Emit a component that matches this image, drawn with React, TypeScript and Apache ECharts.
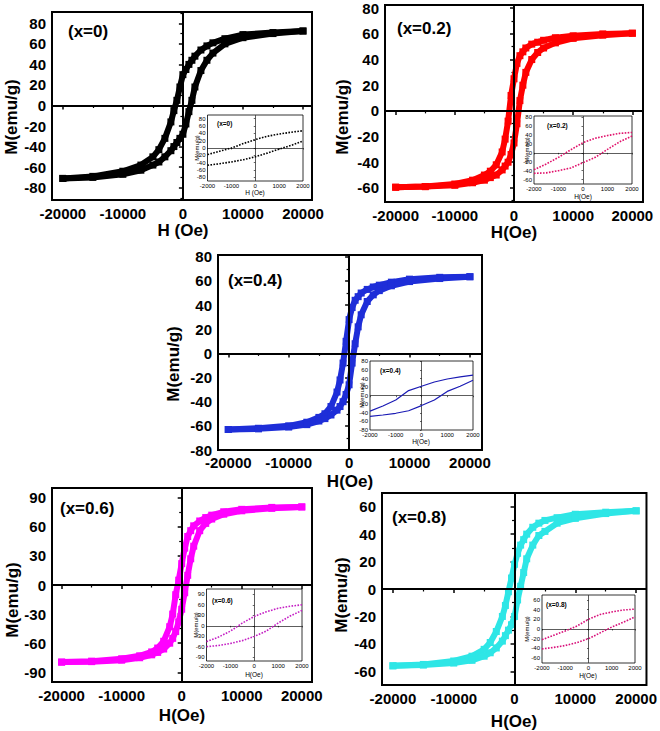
import React, { useEffect, useRef } from "react";
import * as echarts from "echarts";

// ---------- data ----------
const H_DESC = [20000, 15000, 10000, 7000, 5000, 4000, 3000, 2000, 1500, 1000, 500, 0, -500, -1000, -1500, -2000, -3000, -4000, -5000, -7000, -10000, -15000, -20000];
const H_ASC = [-20000, -15000, -10000, -7000, -5000, -4000, -3000, -2000, -1500, -1000, -500, 0, 500, 1000, 1500, 2000, 3000, 4000, 5000, 7000, 10000, 15000, 20000];
const H_INSET = [-2000, -1500, -1000, -500, 0, 500, 1000, 1500, 2000];

const X_TICKS = [-20000, -10000, 0, 10000, 20000];
const X_MINOR = [-15000, -5000, 5000, 15000];
const X_INSET_TICKS = [-2000, -1000, 0, 1000, 2000];

// x = 0
const m0Desc = [72.5, 71, 69, 65, 61, 58, 54, 48, 44, 40, 35, 30, 18, 5, -5, -16, -32, -43, -50, -58, -64, -69, -71];
const m0Asc = [-71, -70, -67, -63, -58, -55, -50, -44, -40, -36, -32, -28, -18, -6, 5, 18, 34, 44, 51, 60, 66, 70, 72.5];
const i0Up = [-18, -9, 0, 12, 23, 32, 38, 43, 47];
const i0Down = [-47, -43, -38, -32, -24, -14, -3, 7, 19];
// x = 0.2
const m2Desc = [60.5, 60, 58.5, 57, 55, 53.5, 52, 49, 46, 43, 37, 25, 12, -8, -22, -32, -42, -47, -50, -54, -57, -59, -59.5];
const m2Asc = [-59.5, -59, -58, -56, -54, -52, -50, -46, -43, -40, -34, -25, -10, 8, 20, 30, 40, 45.5, 49, 53, 56.5, 59, 60.5];
const i2Up = [-38, -25, -10, 7, 23, 33, 39, 44, 46];
const i2Down = [-46, -45, -40, -34, -22, -10, 8, 25, 38];
// x = 0.4
const m4Desc = [63.5, 63, 61.5, 59, 56.5, 55, 53, 50, 47, 44, 38, 28, 10, -8, -22, -32, -44, -50, -53, -57, -60, -62, -63];
const m4Asc = [-63, -62.5, -61, -59, -56, -54, -51, -47, -44, -40, -34, -26, -8, 8, 22, 32, 43, 48.5, 52, 56, 59.5, 62, 63.5];
const i4Up = [-36, -24, -10, 12, 22, 32, 39, 44, 48];
const i4Down = [-48, -45, -41, -35, -23, -10, 10, 22, 36];
// x = 0.6
const m6Desc = [80.5, 80, 78, 75.5, 72, 69.5, 66, 61, 56, 50, 38, 22, 5, -10, -30, -43, -58, -65, -69, -73, -76, -78.5, -79.5];
const m6Asc = [-79.5, -79, -77.5, -75, -72, -69.5, -66, -60, -55, -48, -38, -25, -8, 10, 27, 40, 56, 63.5, 68, 73, 76.5, 79, 80.5];
const i6Up = [-45, -32, -15, 8, 27, 40, 50, 56, 60];
const i6Down = [-59, -56, -50, -42, -30, -15, 8, 28, 44];
// x = 0.8
const m8Desc = [57, 56, 54.5, 52, 50, 48, 45, 40, 36, 32, 26, 18, 8, -2, -12, -20, -31, -39, -44, -49, -52.5, -55, -56];
const m8Asc = [-56, -55.5, -54, -52, -49, -46.5, -43, -38, -34, -30, -26, -20, -8, 2, 12, 22, 32, 39, 42, 48, 51.5, 55, 57];
const i8Up = [-22, -13, -4, 6, 20, 30, 35, 39, 41];
const i8Down = [-41, -38, -34, -28, -20, -8, 4, 14, 25];

const Y_T20_80 = [-80, -60, -40, -20, 0, 20, 40, 60, 80];
const Y_M10_90 = [-90, -70, -50, -30, -10, 10, 30, 50, 70, 90];
const Y_T20_60_80 = [-60, -40, -20, 0, 20, 40, 60, 80];
const Y_M10_70 = [-70, -50, -30, -10, 10, 30, 50, 70];
const Y_T30_90 = [-90, -60, -30, 0, 30, 60, 90];
const Y_M15 = [-75, -45, -15, 15, 45, 75];
const Y_T20_60 = [-60, -40, -20, 0, 20, 40, 60];
const Y_M10_50 = [-50, -30, -10, 10, 30, 50];

const FONT = "'Liberation Sans', Arial, sans-serif";
const plain = (v: number) => String(Math.round(v));

type Panel = {
  label: string;
  xTitle: string;
  color: string;
  desc: number[];
  asc: number[];
  g: number[];
  x: number[];
  y: number[];
  yTicks: number[];
  yMinor: number[];
  xMargin: number;
  labelPos: number[];
  yTitlePos: number[];
  xTitlePos: number[];
  inset: {
    g: number[];
    y: number[];
    yTicks: number[];
    color: string;
    up: number[];
    down: number[];
    solid: boolean;
    labelPos: number[];
    yTitlePos: number[];
    xTitlePos: number[];
    xTitle: string;
  };
};

const panels: Panel[] = [
  {
    label: "(x=0)", xTitle: "H (Oe)", color: "#000000", desc: m0Desc, asc: m0Asc,
    g: [52, 12, 260, 188], x: [-21800, 21500], y: [-92, 91], yTicks: Y_T20_80, yMinor: Y_M10_90,
    xMargin: 6, labelPos: [68, 31], yTitlePos: [11, 117], xTitlePos: [183, 230],
    inset: { g: [207.5, 115, 95.5, 66], y: [-90, 90], yTicks: Y_T20_80, color: "#000000", up: i0Up, down: i0Down, solid: false,
      labelPos: [217, 123], yTitlePos: [197, 148], xTitlePos: [255, 192], xTitle: "H (Oe)" },
  },
  {
    label: "(x=0.2)", xTitle: "H(Oe)", color: "#ff0000", desc: m2Desc, asc: m2Asc,
    g: [385, 5, 258, 197], x: [-21800, 21800], y: [-71, 82.5], yTicks: Y_T20_60_80, yMinor: Y_M10_70,
    xMargin: 6, labelPos: [397, 28], yTitlePos: [342, 117], xTitlePos: [514, 232],
    inset: { g: [534, 116, 98, 68], y: [-70, 83], yTicks: Y_T20_60_80, color: "#e0106a", up: i2Up, down: i2Down, solid: false,
      labelPos: [547, 125], yTitlePos: [527, 150], xTitlePos: [583, 196], xTitle: "H(Oe)" },
  },
  {
    label: "(x=0.4)", xTitle: "H(Oe)", color: "#1e2ed8", desc: m4Desc, asc: m4Asc,
    g: [218, 255, 264, 195], x: [-21700, 22000], y: [-80, 81.5], yTicks: Y_T20_80, yMinor: Y_M10_70,
    xMargin: 5, labelPos: [228, 280], yTitlePos: [173, 364], xTitlePos: [350, 481],
    inset: { g: [370, 361, 103, 69], y: [-80, 81], yTicks: Y_T20_80, color: "#1a1ab4", up: i4Up, down: i4Down, solid: true,
      labelPos: [380, 370], yTitlePos: [362, 395], xTitlePos: [421, 441], xTitle: "H(Oe)" },
  },
  {
    label: "(x=0.6)", xTitle: "H(Oe)", color: "#ff00ff", desc: m6Desc, asc: m6Asc,
    g: [52, 488, 260, 194], x: [-21600, 21700], y: [-100, 100], yTicks: Y_T30_90, yMinor: Y_M15,
    xMargin: 6, labelPos: [60, 508], yTitlePos: [12, 600], xTitlePos: [182, 715],
    inset: { g: [206.5, 589, 95.5, 72], y: [-100, 105], yTicks: Y_T30_90, color: "#c41ec4", up: i6Up, down: i6Down, solid: false,
      labelPos: [212, 600], yTitlePos: [196, 625], xTitlePos: [254, 674], xTitle: "H(Oe)" },
  },
  {
    label: "(x=0.8)", xTitle: "H(Oe)", color: "#2ee6e6", desc: m8Desc, asc: m8Asc,
    g: [382, 493, 265, 192], x: [-21800, 21700], y: [-70, 70], yTicks: Y_T20_60, yMinor: Y_M10_50,
    xMargin: 6, labelPos: [392, 517], yTitlePos: [341, 595], xTitlePos: [514, 721],
    inset: { g: [542, 595, 93, 68], y: [-70, 70], yTicks: Y_T20_60, color: "#d8107a", up: i8Up, down: i8Down, solid: false,
      labelPos: [546, 604], yTitlePos: [527, 629], xTitlePos: [588, 675], xTitle: "H(Oe)" },
  },
];

function buildOption() {
  const grid: any[] = [];
  const xAxis: any[] = [];
  const yAxis: any[] = [];
  const series: any[] = [];
  const graphic: any[] = [];

  const txt = (t: string, x: number, y: number, size: number, bold: boolean, rot = 0, align = "center") => ({
    type: "text", x, y, rotation: rot, z: 100,
    style: { text: t, fontSize: size, fontWeight: bold ? "bold" : "normal", fontFamily: FONT, fill: "#000",
      align, verticalAlign: "middle" },
  });

  panels.forEach((p) => {
    // ---- main grid ----
    const gi = grid.length;
    grid.push({ left: p.g[0], top: p.g[1], width: p.g[2], height: p.g[3], show: true, borderColor: "#000", borderWidth: 2, backgroundColor: "transparent" });
    const xi = xAxis.length;
    xAxis.push({
      type: "value", gridIndex: gi, position: "bottom", min: p.x[0], max: p.x[1],
      axisLine: { show: false }, splitLine: { show: false },
      axisTick: { show: true, inside: false, length: 4, customValues: X_TICKS, lineStyle: { color: "#000", width: 1.5 } },
      axisLabel: { customValues: X_TICKS, formatter: plain, margin: p.xMargin, fontSize: 15, fontWeight: "bold", fontFamily: FONT, color: "#000" },
    });
    xAxis.push({
      type: "value", gridIndex: gi, position: "bottom", min: p.x[0], max: p.x[1],
      axisLine: { show: false }, splitLine: { show: false },
      axisTick: { show: true, inside: false, length: 2.5, customValues: X_MINOR, lineStyle: { color: "#000", width: 1.2 } },
      axisLabel: { show: false },
    });
    const yi = yAxis.length;
    yAxis.push({
      type: "value", gridIndex: gi, position: "left", min: p.y[0], max: p.y[1],
      axisLine: { show: false }, splitLine: { show: false },
      axisTick: { show: true, inside: false, length: 4, customValues: p.yTicks, lineStyle: { color: "#000", width: 1.5 } },
      axisLabel: { customValues: p.yTicks, formatter: plain, margin: 6, fontSize: 15, fontWeight: "bold", fontFamily: FONT, color: "#000" },
    });
    yAxis.push({
      type: "value", gridIndex: gi, position: "left", min: p.y[0], max: p.y[1],
      axisLine: { show: false }, splitLine: { show: false },
      axisTick: { show: true, inside: false, length: 2.5, customValues: p.yMinor, lineStyle: { color: "#000", width: 1.2 } },
      axisLabel: { show: false },
    });
    const mainStyle = {
      type: "line", xAxisIndex: xi, yAxisIndex: yi, symbol: "rect", symbolSize: 7, showSymbol: true,
      itemStyle: { color: p.color }, lineStyle: { color: p.color, width: 6 }, clip: true, silent: true, z: 3,
    };
    series.push({
      ...mainStyle, data: H_DESC.map((h, i) => [h, p.desc[i]]),
      markLine: {
        silent: true, symbol: ["none", "none"], label: { show: false },
        lineStyle: { color: "#000", width: 2, type: "solid" },
        data: [{ xAxis: 0 }, { yAxis: 0 }],
      },
    });
    series.push({ ...mainStyle, data: H_ASC.map((h, i) => [h, p.asc[i]]) });

    graphic.push(txt(p.label, p.labelPos[0], p.labelPos[1], 17, true, 0, "left"));
    graphic.push(txt("M(emu/g)", p.yTitlePos[0], p.yTitlePos[1], 17, true, Math.PI / 2));
    graphic.push(txt(p.xTitle, p.xTitlePos[0], p.xTitlePos[1], 17, true));

    // ---- inset ----
    const n = p.inset;
    const ig = grid.length;
    grid.push({ left: n.g[0], top: n.g[1], width: n.g[2], height: n.g[3], show: true, borderColor: "#000", borderWidth: 0.8, backgroundColor: "#ffffff", z: 5 });
    const ixi = xAxis.length;
    xAxis.push({
      type: "value", gridIndex: ig, position: "bottom", min: -2000, max: 2000, z: 6,
      axisLine: { show: false }, splitLine: { show: false },
      axisTick: { show: true, inside: false, length: 1.5, customValues: X_INSET_TICKS, lineStyle: { color: "#000", width: 0.6 } },
      axisLabel: { customValues: X_INSET_TICKS, formatter: plain, margin: 2, fontSize: 6, fontFamily: FONT, color: "#000" },
    });
    const iyi = yAxis.length;
    yAxis.push({
      type: "value", gridIndex: ig, position: "left", min: n.y[0], max: n.y[1], z: 6,
      axisLine: { show: false }, splitLine: { show: false },
      axisTick: { show: true, inside: false, length: 1.5, customValues: n.yTicks, lineStyle: { color: "#000", width: 0.6 } },
      axisLabel: { customValues: n.yTicks, formatter: plain, margin: 2, fontSize: 6, fontFamily: FONT, color: "#000" },
    });
    const insetStyle = {
      type: "line", xAxisIndex: ixi, yAxisIndex: iyi, symbol: "none", clip: true, silent: true, z: 7,
      lineStyle: { color: n.color, width: n.solid ? 1.2 : 1.6, type: n.solid ? "solid" : [1.6, 1.4] },
    };
    series.push({
      ...insetStyle, data: H_INSET.map((h, i) => [h, n.up[i]]),
      markLine: {
        silent: true, symbol: ["none", "none"], label: { show: false },
        lineStyle: { color: "#333", width: 0.8, type: "solid" },
        data: [{ xAxis: 0 }, { yAxis: 0 }],
      },
    });
    series.push({ ...insetStyle, data: H_INSET.map((h, i) => [h, n.down[i]]) });

    graphic.push(txt(p.label, n.labelPos[0], n.labelPos[1], 6.5, true, 0, "left"));
    graphic.push(txt("M(emu/g)", n.yTitlePos[0], n.yTitlePos[1], 6, false, Math.PI / 2));
    graphic.push(txt(n.xTitle, n.xTitlePos[0], n.xTitlePos[1], 6.5, false));
  });

  return {
    animation: false,
    backgroundColor: "#ffffff",
    grid, xAxis, yAxis, series, graphic,
  };
}

export default function App() {
  const ref = useRef<HTMLDivElement>(null);
  useEffect(() => {
    if (!ref.current) return;
    const chart = echarts.init(ref.current, undefined, { renderer: "svg" });
    chart.setOption(buildOption() as any);
    return () => chart.dispose();
  }, []);
  return (
    <div
      ref={ref}
      style={{ position: "fixed", left: 0, top: 0, width: 660, height: 731, background: "#fff" }}
    />
  );
}
